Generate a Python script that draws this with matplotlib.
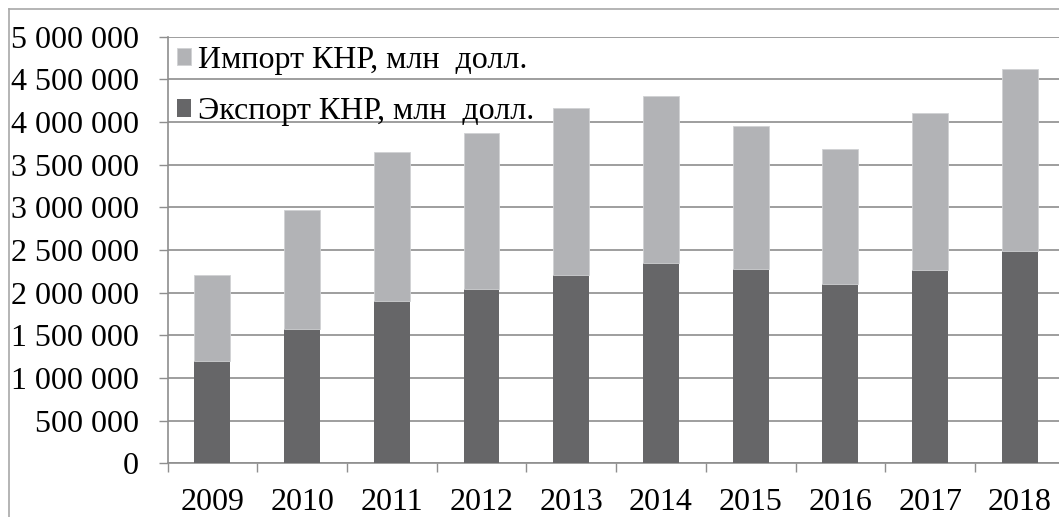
import matplotlib.pyplot as plt
from matplotlib.ticker import FuncFormatter, MultipleLocator, FixedLocator
from matplotlib.lines import Line2D
import numpy as np

# Данные: экспорт и импорт КНР, млн долл.
years = ['2009', '2010', '2011', '2012', '2013', '2014', '2015', '2016', '2017', '2018']
export = [1201612, 1577754, 1898381, 2048714, 2209004, 2342293, 2273468, 2097631, 2263371, 2486695]
imports = [1005923, 1396247, 1743484, 1818405, 1949990, 1959235, 1679564, 1587925, 1843793, 2135748]

label_import = 'Импорт КНР, млн  долл.'
label_export = 'Экспорт КНР, млн  долл.'

col_export = '#666668'
col_import = '#b2b3b6'
col_grid = '#8e8e8e'

plt.rcParams['font.family'] = ['Liberation Serif', 'DejaVu Serif']
fs = 23

fig = plt.figure(figsize=(10.59, 5.17), dpi=100)
ax = fig.add_axes([0.1582, 0.1035, 0.8472, 0.8259])

x = np.arange(len(years))
b_exp = ax.bar(x, export, width=0.4, color=col_export, zorder=3, label=label_export)
b_imp = ax.bar(x, imports, width=0.4, bottom=export, color=col_import,
               edgecolor='#d0d1d3', linewidth=0.6, zorder=3, label=label_import)

ax.set_xlim(-0.5, len(years) - 0.5)
ax.set_ylim(0, 5000000)

# Ось Y
ax.yaxis.set_major_locator(MultipleLocator(500000))
ax.yaxis.set_major_formatter(FuncFormatter(lambda v, p: f"{int(v):,}".replace(",", " ")))
ax.tick_params(axis='y', length=6.5, width=1, color=col_grid, pad=14, labelsize=fs)
ax.grid(axis='y', color=col_grid, linewidth=1.2, zorder=0)

# Ось X: подписи по центру, засечки на границах
ax.set_xticks(x)
ax.set_xticklabels(years)
ax.xaxis.set_minor_locator(FixedLocator(np.arange(-0.5, len(years), 1)))
ax.tick_params(axis='x', which='major', length=0, pad=18, labelsize=fs)
ax.tick_params(axis='x', which='minor', length=6.5, width=1, color=col_grid)

for s in ['top', 'right']:
    ax.spines[s].set_visible(False)
for s in ['left', 'bottom']:
    ax.spines[s].set_color(col_grid)
    ax.spines[s].set_linewidth(1.2)

# Легенда
ax.legend(handles=[b_imp, b_exp], labels=[label_import, label_export],
          loc='upper left', bbox_to_anchor=(0.0, 1.0), frameon=False, fontsize=fs,
          handlelength=0.45, handleheight=0.45, handletextpad=0.2,
          labelspacing=0.7, borderaxespad=0.1, borderpad=0.2)

# Рамка диаграммы
fig.add_artist(Line2D([9 / 1059, 9 / 1059], [0, 1 - 9 / 517], color='#a8a8a8', linewidth=1.2))
fig.add_artist(Line2D([9 / 1059, 1], [1 - 9 / 517, 1 - 9 / 517], color='#a8a8a8', linewidth=1.2))

plt.savefig('out.png', dpi=100)
